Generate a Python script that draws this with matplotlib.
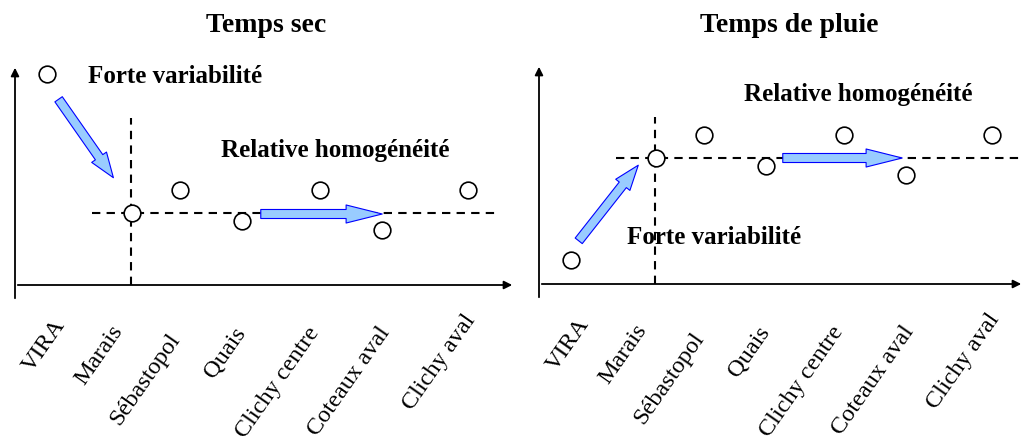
import numpy as np
import matplotlib
matplotlib.use("Agg")
import matplotlib.pyplot as plt
from matplotlib.patches import FancyArrowPatch

plt.rcParams['font.family'] = ['Liberation Serif', 'DejaVu Serif']

# sites de mesure
sites = ["VIRA", "Marais", "Sébastopol", "Quais", "Clichy centre", "Coteaux aval", "Clichy aval"]
x_sites = [32, 117, 165, 227, 305, 367, 453]
# niveaux (unités arbitraires)
sec = [211, 72, 95, 64, 95, 55, 95]
pluie = [24, 126, 149, 118, 149, 109, 149]

# decalage des etiquettes sous l'axe
lab_dx = [6, -22, -13, -9, -13, -5, -5]
lab_dy = [-30, -36, -45, -38, -38, -38, -26]

W, H = 1024, 436
fig = plt.figure(figsize=(W / 100, H / 100), dpi=100)

def fleche(ax, p0, p1, hl):
    a = FancyArrowPatch(p0, p1, arrowstyle="simple,head_width=13,head_length=%d,tail_width=6.5" % hl,
                        mutation_scale=1, facecolor="#99ccff", edgecolor="#0000ff", lw=0.8,
                        clip_on=False, zorder=4)
    ax.add_patch(a)

def panneau(x0, base, width, vals, titre, tx, fv_pos, rh_pos, diag, horiz, hend):
    ax = fig.add_axes([x0 / W, (H - base) / H, width / W, 225 / H])
    ax.set_xlim(0, width)
    ax.set_ylim(0, 225)
    ax.axis("off")
    # axes fleches
    ax.annotate("", xy=(width, 0), xytext=(0, 0), annotation_clip=False,
                arrowprops=dict(arrowstyle="-|>", color="k", lw=1.3, mutation_scale=12))
    ax.annotate("", xy=(0, 220), xytext=(0, -16), annotation_clip=False,
                arrowprops=dict(arrowstyle="-|>", color="k", lw=1.3, mutation_scale=12))
    ref = vals[1]
    ax.plot([x_sites[1] - 40, hend], [ref, ref], color="k", lw=1.5,
            linestyle=(0, (4, 3)), clip_on=False)
    ax.plot([x_sites[1] - 1, x_sites[1] - 1], [0, 167], color="k", lw=1.5,
            linestyle=(0, (4, 3)), clip_on=False)
    ax.plot(x_sites, vals, "o", ms=12, mfc="white", mec="k", mew=1.2, clip_on=False, zorder=3)
    fleche(ax, diag[0], diag[1], 18)
    fleche(ax, horiz[0], horiz[1], 26)
    ax.text(fv_pos[0], fv_pos[1], "Forte variabilité", fontsize=18, fontweight="bold",
            ha="left", va="center", zorder=5)
    ax.text(rh_pos[0], rh_pos[1], "Relative homogénéité", fontsize=18, fontweight="bold",
            ha="left", va="center", zorder=5)
    for i, s in enumerate(sites):
        ax.text(x_sites[i] + lab_dx[i], lab_dy[i], s, fontsize=17.5, rotation=55,
                rotation_mode="anchor", ha="right", va="top", clip_on=False)
    fig.text(tx / W, 1 - 25 / H, titre, fontsize=20, fontweight="bold",
             ha="center", va="center")
    return ax

panneau(15, 285, 500, sec, "Temps sec", 266, (73, 209), (206, 135),
        ((42, 188), (100, 105)), ((243, 71), (370, 71)), 485)
panneau(539, 284, 485, pluie, "Temps de pluie", 789, (88, 47), (205, 189),
        ((38, 41), (101, 121)), ((241, 126), (366, 126)), 485)

fig.savefig("out.png", dpi=100)
